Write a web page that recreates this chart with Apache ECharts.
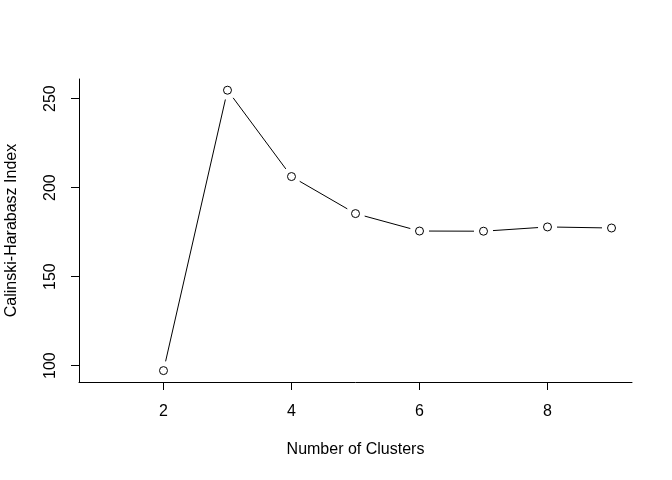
<!DOCTYPE html>
<html>
<head>
<meta charset="utf-8">
<script src="https://cdn.jsdelivr.net/npm/echarts@6/dist/echarts.min.js"></script>
<style>
html,body{margin:0;padding:0;background:#fff;}
#c{width:672px;height:480px;}
</style>
</head>
<body>
<div id="c"></div>
<script>
const clusters = [2, 3, 4, 5, 6, 7, 8, 9];
const chIndex = [97.2, 254.7, 206.2, 185.4, 175.6, 175.5, 177.9, 177.3];
const xTicks = [2, 4, 6, 8];
const yTicks = [100, 150, 200, 250];

const points = clusters.map((c, i) => [c, chIndex[i]]);
const segments = [];
for (let i = 0; i < clusters.length - 1; i++) {
  segments.push([clusters[i], chIndex[i], clusters[i + 1], chIndex[i + 1]]);
}

const FONT = '"Liberation Sans", Arial, sans-serif';
const chart = echarts.init(document.getElementById('c'), null, {renderer: 'canvas'});
const GAP = 9.5;

chart.setOption({
  animation: false,
  backgroundColor: '#fff',
  grid: {left: 79, right: 40, top: 79, bottom: 98, containLabel: false, outerBoundsMode: 'none'},
  xAxis: {
    type: 'value', min: 0.68, max: 9.32,
    name: 'Number of Clusters', nameLocation: 'middle', nameGap: 60,
    nameTextStyle: {fontFamily: FONT, fontSize: 16, color: '#000'},
    axisLine: {show: true, onZero: false, lineStyle: {color: '#000', width: 1}},
    axisTick: {show: true, length: 8, inside: false, customValues: xTicks, lineStyle: {color: '#000'}},
    axisLabel: {show: true, customValues: xTicks, margin: 22, fontFamily: FONT, fontSize: 16, color: '#000'},
    splitLine: {show: false}
  },
  yAxis: {
    type: 'value', min: 90.8, max: 261.0,
    name: 'Calinski-Harabasz Index', nameLocation: 'middle', nameGap: 59, nameRotate: 90,
    nameTextStyle: {fontFamily: FONT, fontSize: 16, color: '#000'},
    axisLine: {show: true, onZero: false, lineStyle: {color: '#000', width: 1}},
    axisTick: {show: true, length: 8, inside: false, customValues: yTicks, lineStyle: {color: '#000'}},
    axisLabel: {show: true, customValues: yTicks, rotate: 90, margin: 20, fontFamily: FONT, fontSize: 16, color: '#000'},
    splitLine: {show: false}
  },
  series: [
    {
      type: 'custom',
      data: segments,
      encode: {x: [0, 2], y: [1, 3]},
      renderItem: function (params, api) {
        const p1 = api.coord([api.value(0), api.value(1)]);
        const p2 = api.coord([api.value(2), api.value(3)]);
        const dx = p2[0] - p1[0], dy = p2[1] - p1[1];
        const len = Math.sqrt(dx * dx + dy * dy);
        if (len <= 2 * GAP) return null;
        const ux = dx / len, uy = dy / len;
        return {
          type: 'line',
          shape: {x1: p1[0] + ux * GAP, y1: p1[1] + uy * GAP, x2: p2[0] - ux * GAP, y2: p2[1] - uy * GAP},
          style: {stroke: '#000', lineWidth: 1}
        };
      },
      z: 1
    },
    {
      type: 'scatter',
      data: points,
      symbol: 'circle',
      symbolSize: 8,
      itemStyle: {color: '#fff', borderColor: '#000', borderWidth: 1, opacity: 1},
      z: 2
    }
  ]
});
</script>
</body>
</html>
